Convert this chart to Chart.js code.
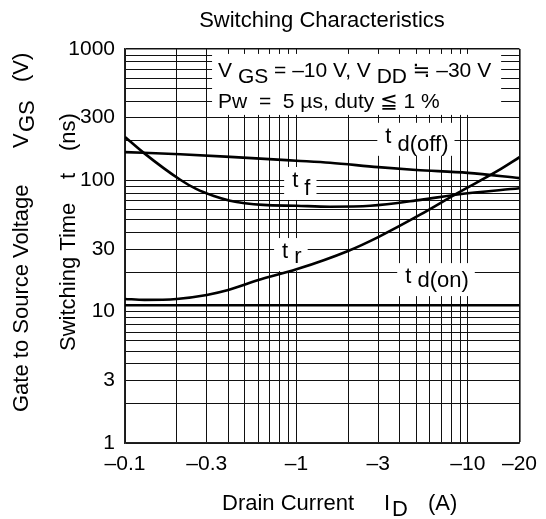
<!DOCTYPE html>
<html>
<head>
<meta charset="utf-8">
<script src="https://cdn.jsdelivr.net/npm/chart.js@4.4.1/dist/chart.umd.min.js"></script>
<style>
  body { margin: 0; background: #fff; }
</style>
</head>
<body>
<canvas id="grafico" width="546" height="519"></canvas>
<script>
// drain current |I_D| in A, switching time in ns
const currentTdOff = [0.1, 0.21, 0.41, 1, 1.57, 3, 5, 10, 20];
const timeTdOff = [164, 158, 151, 141, 136, 126, 120, 114, 104];

const currentTf = [0.1, 0.127, 0.21, 0.26, 0.33, 0.41, 0.5, 0.64, 1, 1.57, 2.7, 5.3, 8.7, 20];
const timeTf = [214, 164, 101, 86, 76, 70, 67, 65, 64, 63, 64, 71, 78, 87];

const currentTr = [0.1, 0.13, 0.2, 0.3, 0.4, 0.6, 1, 2, 3, 5.3, 8.7, 14.9, 20];
const timeTr = [12.5, 12.3, 12.5, 13.4, 14.6, 17.4, 21, 29, 37, 55, 80, 118, 150];

const currentTdOn = [0.1, 20];
const timeTdOn = [11.2, 11.2];

// axis grid and tick labels
const xGrid = [0.1, 0.2, 0.3, 0.4, 0.5, 0.6, 0.7, 0.8, 0.9, 1, 2, 3, 4, 5, 6, 7, 8, 9, 10, 20];
const xLabels = [0.1, 0.3, 1, 3, 10, 20];
const yGrid = [1, 2, 3, 4, 5, 6, 7, 8, 9, 10, 20, 30, 40, 50, 60, 70, 80, 90,
  100, 200, 300, 400, 500, 600, 700, 800, 900, 1000];
const yLabels = [1, 3, 10, 30, 100, 300, 1000];

// curve names: [I, t] of the "t" letter baseline, text parts with subscript shift
const curveLabels = [
  { at: [3.3, 193], parts: [["t", 0], [" d(off)", 8]] },
  { at: [0.944, 89], parts: [["t", 0], [" f", 8]] },
  { at: [0.825, 25.6], parts: [["t", 0], [" r", 5]] },
  { at: [4.31, 16.5], parts: [["t", 0], [" d(on)", 4]] },
];
const conditionAt = [0.349, 613, 356];
const conditionLine1 = [["V", 0], [" GS", 6], [" = \u201310 V, V", 0], [" DD", 6], [" \u2252 \u201330 V", 0]];
const conditionLine2 = [["Pw  =  5 \u00b5s, duty \u2266 1 %", 0]];

const FONT_FAMILY = '"Liberation Sans", Arial, "DejaVu Sans", sans-serif';
const FONT_TEXT = "21px " + FONT_FAMILY;
const FONT_CURVE = "22px " + FONT_FAMILY;
const FONT_TITLE = "22px " + FONT_FAMILY;

function toPoints(xs, ys) {
  return xs.map((x, i) => ({ x: x, y: ys[i] }));
}

function partsWidth(ctx, parts) {
  let w = 0;
  parts.forEach(p => { w += ctx.measureText(p[0]).width; });
  return w;
}

function drawParts(ctx, x, y, parts) {
  let cx = x;
  parts.forEach(p => {
    ctx.fillText(p[0], cx, y + p[1]);
    cx += ctx.measureText(p[0]).width;
  });
}

const textPlugin = {
  id: "textPlugin",
  beforeDatasetsDraw(chart) {
    const ctx = chart.ctx;
    const xs = chart.scales.x;
    const ys = chart.scales.y;
    ctx.save();
    ctx.textBaseline = "alphabetic";
    ctx.textAlign = "left";

    // measurement conditions box
    ctx.font = FONT_TEXT;
    const x0 = xs.getPixelForValue(conditionAt[0]);
    const b1 = ys.getPixelForValue(conditionAt[1]);
    const b2 = ys.getPixelForValue(conditionAt[2]);
    const w1 = partsWidth(ctx, conditionLine1);
    ctx.fillStyle = "#fff";
    ctx.fillRect(x0 - 6, b1 - 23, w1 + 16, b2 - b1 + 30);
    ctx.fillStyle = "#000";
    drawParts(ctx, x0, b1, conditionLine1);
    drawParts(ctx, x0, b2, conditionLine2);

    // curve names
    ctx.font = FONT_CURVE;
    curveLabels.forEach(l => {
      const lx = xs.getPixelForValue(l.at[0]);
      const ly = ys.getPixelForValue(l.at[1]);
      const w = partsWidth(ctx, l.parts);
      ctx.fillStyle = "#fff";
      ctx.fillRect(lx - 8, ly - 20, w + 14, 33);
      ctx.fillStyle = "#000";
      drawParts(ctx, lx, ly, l.parts);
    });
    ctx.restore();
  },
  afterDraw(chart) {
    const ctx = chart.ctx;
    ctx.save();
    ctx.font = FONT_TITLE;
    ctx.fillStyle = "#000";

    // title
    ctx.textAlign = "center";
    ctx.textBaseline = "alphabetic";
    ctx.fillText("Switching Characteristics", 322, 27);

    // x axis title
    ctx.textAlign = "left";
    ctx.fillText("Drain Current", 222, 510);
    ctx.fillText("I", 384, 510);
    ctx.fillText("D", 392, 516);
    ctx.fillText("(A)", 428, 510);

    // y axis titles (rotated)
    ctx.save();
    ctx.translate(75, 0);
    ctx.rotate(-Math.PI / 2);
    ctx.fillText("Switching Time", -351, 0);
    ctx.fillText("t", -179, 0);
    ctx.fillText("(ns)", -151, 0);
    ctx.restore();

    ctx.save();
    ctx.translate(28, 0);
    ctx.rotate(-Math.PI / 2);
    ctx.fillText("Gate to Source Voltage", -412, 0);
    ctx.fillText("V", -148, 0);
    ctx.fillText("GS", -132, 6);
    ctx.fillText("(V)", -82, 0);
    ctx.restore();

    ctx.restore();
  }
};

function curve(label, xs, ys) {
  return {
    label: label,
    data: toPoints(xs, ys),
    borderColor: "#000",
    borderWidth: 2.6,
    pointRadius: 0,
    fill: false,
    cubicInterpolationMode: "monotone",
  };
}

new Chart(document.getElementById("grafico"), {
  type: "line",
  data: {
    datasets: [
      curve("td(off)", currentTdOff, timeTdOff),
      curve("tf", currentTf, timeTf),
      curve("tr", currentTr, timeTr),
      curve("td(on)", currentTdOn, timeTdOn),
    ]
  },
  options: {
    responsive: false,
    animation: false,
    layout: { padding: { top: 49, right: 26, left: 0, bottom: 0 } },
    plugins: {
      legend: { display: false },
      title: { display: false },
      tooltip: { enabled: false },
    },
    scales: {
      x: {
        type: "logarithmic",
        min: 0.1,
        max: 20,
        afterFit(scale) { scale.height = 76; },
        afterBuildTicks(scale) { scale.ticks = xGrid.map(v => ({ value: v })); },
        grid: {
          color: "#111",
          lineWidth: c => (c.tick && c.tick.value === 20 ? 1.6 : 1),
          drawTicks: false,
        },
        border: { color: "#222", width: 1.6 },
        ticks: {
          autoSkip: false,
          maxRotation: 0,
          padding: 9,
          color: "#000",
          font: { family: FONT_FAMILY, size: 21 },
          callback: v => (xLabels.includes(v) ? "\u2013" + v : ""),
        },
      },
      y: {
        type: "logarithmic",
        min: 1,
        max: 1000,
        afterFit(scale) { scale.width = 125; },
        afterBuildTicks(scale) { scale.ticks = yGrid.map(v => ({ value: v })); },
        grid: {
          color: "#111",
          lineWidth: c => (c.tick && c.tick.value === 1000 ? 1.6 : 1),
          drawTicks: false,
        },
        border: { color: "#222", width: 1.6 },
        ticks: {
          autoSkip: false,
          padding: 10,
          color: "#000",
          font: { family: FONT_FAMILY, size: 21 },
          callback: v => (yLabels.includes(v) ? String(v) : ""),
        },
      },
    },
  },
  plugins: [textPlugin],
});
</script>
</body>
</html>
